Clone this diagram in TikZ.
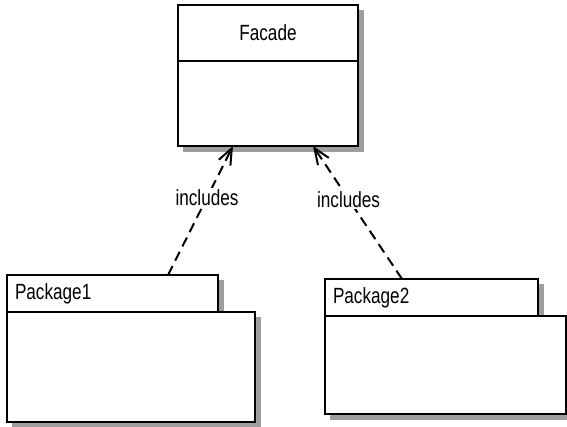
\documentclass[tikz,border=0pt]{standalone}
\usepackage{fontspec}
\setmainfont{Liberation Sans}[FakeStretch=0.78]
\usepackage{tikz}
\usetikzlibrary{positioning,arrows.meta,backgrounds}

\tikzset{
    umlbox/.style={draw, line width=2.4pt, fill=white, inner sep=0pt, outer sep=0pt},
    shadowbox/.style={fill=black!38},
    includes/.style={line width=2pt, dash pattern=on 10pt off 6pt,
        -{Straight Barb[length=16pt,width=13pt,line width=2pt]}},
    lbl/.style={fill=white, inner sep=2pt}
}

\begin{document}
\begin{tikzpicture}[x=1pt,y=-1pt,font=\fontsize{22}{26}\selectfont]
\useasboundingbox (0,0) rectangle (567,427);

\node[umlbox,
    minimum width=180pt,
    minimum height=56pt,
    align=center
] (facadeName) at (268,33) {Facade};

\node[umlbox,
    below=0pt of facadeName,
    minimum width=180pt,
    minimum height=85pt
] (facadeBody) {};

\node[umlbox,
    minimum width=211pt,
    minimum height=37pt,
    text width=195pt,
    align=left
] (pkgOneTab) at (112.5,293.5) {Package1};

\node[umlbox,
    below right=0pt and 0pt of pkgOneTab.south west,
    minimum width=248pt,
    minimum height=110pt
] (pkgOneBody) {};

\node[umlbox,
    minimum width=213pt,
    minimum height=37pt,
    text width=197pt,
    align=left
] (pkgTwoTab) at (431.5,297.5) {Package2};

\node[umlbox,
    below right=0pt and 0pt of pkgTwoTab.south west,
    minimum width=241pt,
    minimum height=98pt
] (pkgTwoBody) {};

% shadows
\begin{scope}[on background layer]
\foreach \b in {facadeName,facadeBody,pkgOneTab,pkgOneBody,pkgTwoTab,pkgTwoBody}
    \fill[shadowbox] ([xshift=5pt,yshift=-5pt]\b.north west) rectangle ([xshift=6pt,yshift=-6pt]\b.south east);
\end{scope}

\draw[includes] ([xshift=-50pt]pkgOneTab.north east) -- ([xshift=-35pt]facadeBody.south)
    node [pos=0.6,lbl] {includes};
\draw[includes] ([xshift=-29.5pt]pkgTwoTab.north) -- ([xshift=45pt]facadeBody.south)
    node [pos=0.6,lbl] {includes};

\end{tikzpicture}
\end{document}
